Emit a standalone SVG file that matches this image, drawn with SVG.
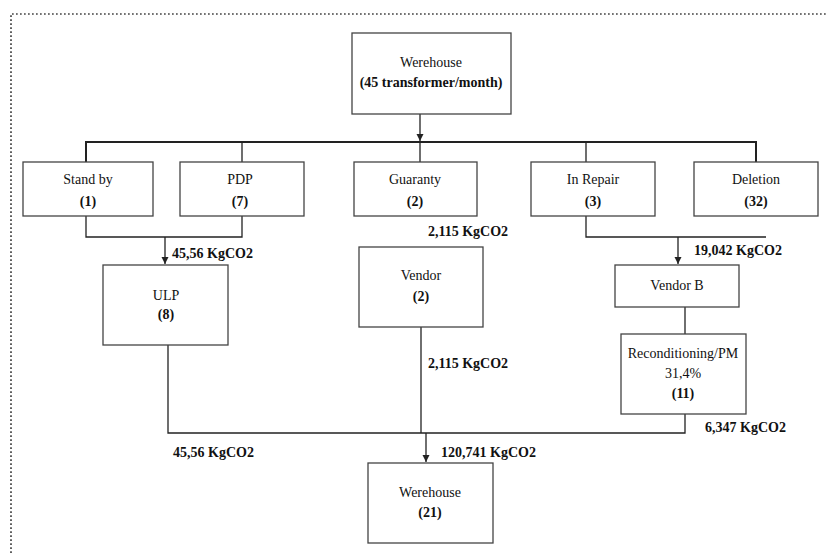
<svg xmlns="http://www.w3.org/2000/svg" width="828" height="553" viewBox="0 0 828 553">
<style>
.box{fill:#fff;stroke:#444;stroke-width:1.3}
.t{font-family:"Liberation Serif","Times New Roman",serif;font-size:14px;fill:#111;text-anchor:middle}
.b{font-weight:bold}
.l{font-family:"Liberation Serif","Times New Roman",serif;font-size:14px;font-weight:bold;fill:#111}
.c{fill:none;stroke:#222;stroke-width:1.3}
</style>
<defs>
<marker id="ah" markerWidth="8" markerHeight="8" refX="7" refY="4" orient="auto" markerUnits="userSpaceOnUse">
<path d="M0,0.5 L7,4 L0,7.5 z" fill="#222"/>
</marker>
</defs>
<rect width="828" height="553" fill="#fff"/>
<path d="M11,553 V14 H828" fill="none" stroke="#444" stroke-width="1.7" stroke-dasharray="1.7,2.3"/>
<g id="connectors">
<path class="c" d="M420,114 V141" marker-end="url(#ah)"/>
<path class="c" d="M86,162 V142 H756 V162" style="stroke-width:2"/>
<path class="c" d="M242,142 V162 M420,142 V162 M586,142 V162"/>
<path class="c" d="M86,216 V237 H242 V216"/>
<path class="c" d="M165,237 V264" marker-end="url(#ah)"/>
<path class="c" d="M586,216 V237 H766"/>
<path class="c" d="M678,237 V264" marker-end="url(#ah)"/>
<path class="c" d="M685,307 V334"/>
<path class="c" d="M168,345 V433 H685 V414"/>
<path class="c" d="M421,327 V433"/>
<path class="c" d="M426,433 V462" marker-end="url(#ah)"/>
</g>
<g id="n-top"><rect class="box" x="352" y="33" width="159" height="81"/><text class="t" x="431" y="67">Werehouse</text><text class="t b" x="431" y="87">(45 transformer/month)</text></g>
<g id="n-standby"><rect class="box" x="23" y="162" width="130" height="54"/><text class="t" x="88" y="184">Stand by</text><text class="t b" x="88" y="206">(1)</text></g>
<g id="n-pdp"><rect class="box" x="180" y="162" width="124" height="54"/><text class="t" x="240" y="184">PDP</text><text class="t b" x="240" y="206">(7)</text></g>
<g id="n-guaranty"><rect class="box" x="354" y="162" width="123" height="54"/><text class="t" x="415" y="184">Guaranty</text><text class="t b" x="415" y="206">(2)</text></g>
<g id="n-inrepair"><rect class="box" x="531" y="162" width="124" height="54"/><text class="t" x="593" y="184">In Repair</text><text class="t b" x="593" y="206">(3)</text></g>
<g id="n-deletion"><rect class="box" x="694" y="162" width="124" height="54"/><text class="t" x="756" y="184">Deletion</text><text class="t b" x="756" y="206">(32)</text></g>
<g id="n-ulp"><rect class="box" x="103" y="265" width="125" height="80"/><text class="t" x="166" y="300">ULP</text><text class="t b" x="166" y="319">(8)</text></g>
<g id="n-vendor"><rect class="box" x="359" y="247" width="124" height="80"/><text class="t" x="421" y="280">Vendor</text><text class="t b" x="421" y="301">(2)</text></g>
<g id="n-vendorb"><rect class="box" x="615" y="265" width="124" height="42"/><text class="t" x="677" y="290">Vendor B</text></g>
<g id="n-recon"><rect class="box" x="621" y="334" width="125" height="80"/><text class="t" x="683" y="358">Reconditioning/PM</text><text class="t" x="683" y="378">31,4%</text><text class="t b" x="683" y="398">(11)</text></g>
<g id="n-bottom"><rect class="box" x="368" y="463" width="125" height="80"/><text class="t" x="430" y="497">Werehouse</text><text class="t b" x="430" y="517">(21)</text></g>
<g id="labels">
<text class="l" x="428" y="236">2,115 KgCO2</text>
<text class="l" x="172" y="258">45,56 KgCO2</text>
<text class="l" x="694" y="255">19,042 KgCO2</text>
<text class="l" x="428" y="368">2,115 KgCO2</text>
<text class="l" x="705" y="432">6,347 KgCO2</text>
<text class="l" x="173" y="457">45,56 KgCO2</text>
<text class="l" x="441" y="457">120,741 KgCO2</text>
</g>
</svg>
